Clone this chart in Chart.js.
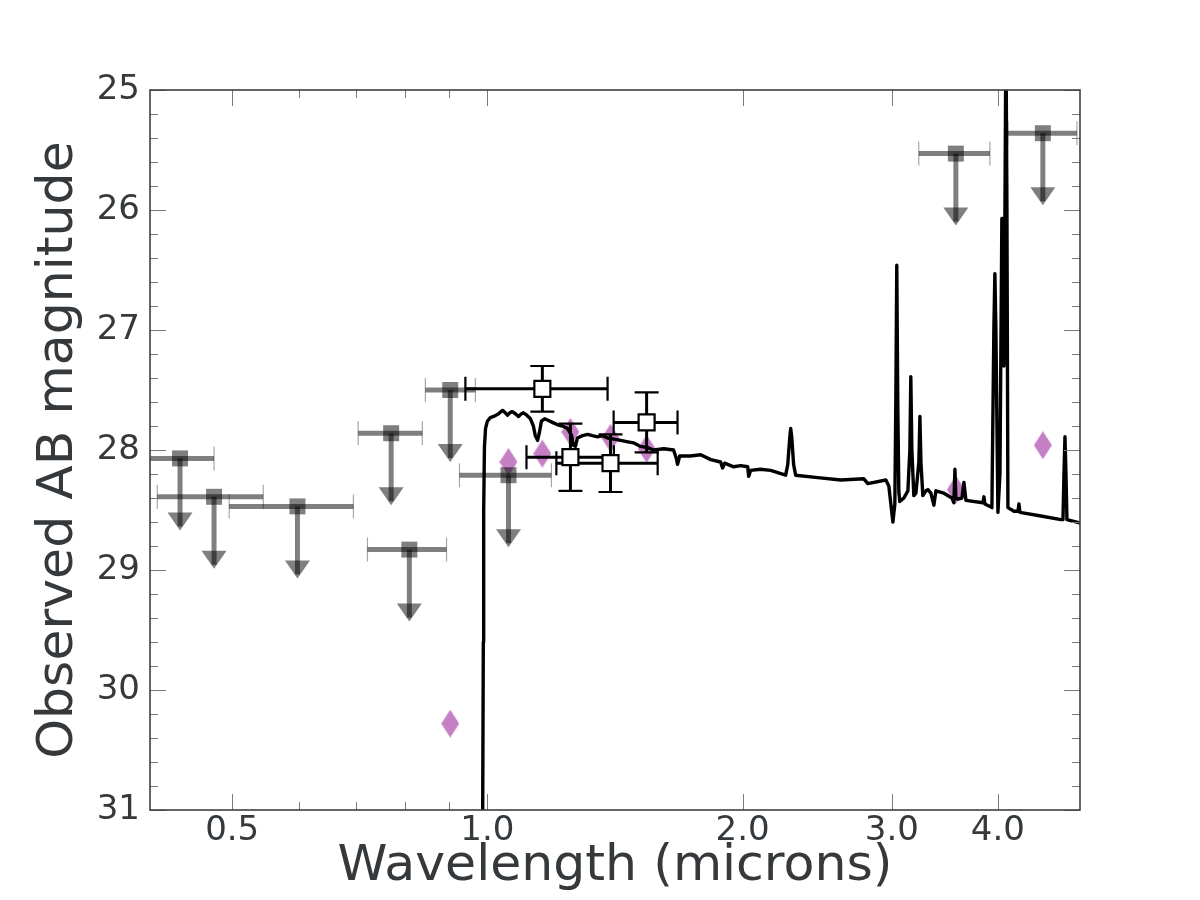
<!DOCTYPE html>
<html><head><meta charset="utf-8">
<script src="https://cdn.jsdelivr.net/npm/chart.js@4.4.1/dist/chart.umd.min.js"></script>
<style>html,body{margin:0;padding:0;background:#fff;}#wrap{width:1200px;height:900px;}</style>
</head><body><div id="wrap"><canvas id="c" width="1200" height="900"></canvas></div>
<script>
// ---------- data ----------
// Upper limits (gray squares with downward arrows)
const ulWave   = [0.434, 0.476, 0.597, 0.770, 0.809, 0.904, 1.059, 3.569, 4.520];
const ulMag    = [28.07, 28.39, 28.47, 27.86, 28.83, 27.50, 28.21, 25.53, 25.36];
const ulWaveLo = [0.396, 0.408, 0.496, 0.704, 0.722, 0.845, 0.927, 3.227, 4.111];
const ulWaveHi = [0.476, 0.544, 0.695, 0.838, 0.895, 0.968, 1.190, 3.915, 4.959];

// Detections (open black squares with error bars)
const detWave   = [1.161, 1.253, 1.397, 1.541];
const detMag    = [27.49, 28.06, 28.11, 27.77];
const detMagErr = [0.19, 0.28, 0.24, 0.25];
const detWaveLo = [0.942, 1.112, 1.206, 1.409];
const detWaveHi = [1.386, 1.410, 1.588, 1.676];

// Model photometry (magenta thin diamonds)
const modelWave = [0.904, 1.059, 1.161, 1.253, 1.397, 1.541, 3.569, 4.520];
const modelMag  = [30.28, 28.10, 28.03, 27.85, 27.90, 27.99, 28.33, 27.96];

// Model spectrum (black line)
const specWave = [0.987, 0.989, 0.990, 0.992, 0.995, 1.000, 1.008, 1.017, 1.030, 1.042, 1.050, 1.056, 1.063, 1.070, 1.080, 1.088, 1.096, 1.103, 1.113, 1.124, 1.133, 1.139, 1.146, 1.152, 1.158, 1.168, 1.177, 1.193, 1.210, 1.226, 1.243, 1.257, 1.263, 1.270, 1.277, 1.295, 1.313, 1.330, 1.349, 1.367, 1.386, 1.410, 1.436, 1.460, 1.487, 1.516, 1.545, 1.570, 1.615, 1.658, 1.672, 1.676, 1.686, 1.735, 1.785, 1.834, 1.884, 1.894, 1.905, 1.952, 1.990, 2.028, 2.033, 2.044, 2.100, 2.158, 2.248, 2.261, 2.273, 2.279, 2.286, 2.297, 2.310, 2.453, 2.611, 2.780, 2.810, 2.951, 2.975, 3.008, 3.024, 3.032, 3.040, 3.048, 3.057, 3.065, 3.099, 3.133, 3.150, 3.158, 3.167, 3.184, 3.202, 3.228, 3.237, 3.246, 3.263, 3.290, 3.308, 3.335, 3.362, 3.381, 3.455, 3.531, 3.550, 3.560, 3.569, 3.589, 3.628, 3.648, 3.668, 3.841, 3.852, 3.862, 3.936, 3.957, 3.968, 3.979, 4.001, 4.023, 4.044, 4.056, 4.067, 4.078, 4.089, 4.100, 4.111, 4.179, 4.225, 4.236, 4.248, 4.497, 4.748, 4.774, 4.787, 4.800, 4.813, 4.826, 5.013];
const specMag  = [31.30, 29.60, 28.50, 27.98, 27.82, 27.76, 27.73, 27.72, 27.70, 27.67, 27.69, 27.71, 27.69, 27.68, 27.70, 27.72, 27.70, 27.69, 27.71, 27.74, 27.80, 27.88, 27.92, 27.85, 27.76, 27.74, 27.75, 27.77, 27.79, 27.80, 27.82, 27.88, 27.96, 27.97, 27.90, 27.88, 27.87, 27.88, 27.89, 27.88, 27.90, 27.91, 27.92, 27.93, 27.94, 27.97, 27.98, 28.00, 27.99, 28.00, 28.08, 28.12, 28.05, 28.05, 28.04, 28.08, 28.10, 28.15, 28.11, 28.14, 28.13, 28.14, 28.22, 28.17, 28.16, 28.17, 28.21, 28.12, 27.90, 27.82, 27.90, 28.12, 28.21, 28.23, 28.25, 28.24, 28.28, 28.25, 28.30, 28.60, 28.45, 27.60, 26.46, 27.60, 28.35, 28.43, 28.40, 28.34, 28.00, 27.39, 28.00, 28.38, 28.36, 28.10, 27.72, 28.10, 28.38, 28.34, 28.33, 28.36, 28.46, 28.34, 28.36, 28.40, 28.44, 28.16, 28.40, 28.41, 28.40, 28.27, 28.42, 28.44, 28.39, 28.45, 28.48, 27.00, 26.53, 27.00, 28.52, 28.20, 26.07, 26.07, 27.30, 26.00, 24.50, 26.00, 28.48, 28.51, 28.51, 28.45, 28.52, 28.55, 28.58, 28.58, 28.20, 27.89, 28.20, 28.58, 28.61];

// Axis ticks
const xMajorTicks = [0.5, 1.0, 2.0, 3.0, 4.0];
const xMinorTicks = [0.6, 0.7, 0.8, 0.9];
const yMajorTicks = [25, 26, 27, 28, 29, 30, 31];
const yMinorTicks = [25.2, 25.4, 25.6, 25.8, 26.2, 26.4, 26.6, 26.8, 27.2, 27.4, 27.6, 27.8, 28.2, 28.4, 28.6, 28.8, 29.2, 29.4, 29.6, 29.8, 30.2, 30.4, 30.6, 30.8];

// ---------- styles ----------
const TEXT = '#35393c';
const FRAME = '#3f3f3f';
const TICKC = '#7a7a7a';
const UL_ARROW_MAG = 0.6;
const FONT = 'DejaVu Sans';

function makeDiamond(w, h, color) {
  const c = document.createElement('canvas');
  c.width = w; c.height = h;
  const g = c.getContext('2d');
  g.fillStyle = color;
  g.beginPath();
  g.moveTo(w / 2, 0); g.lineTo(w, h / 2); g.lineTo(w / 2, h); g.lineTo(0, h / 2);
  g.closePath(); g.fill();
  return c;
}
const diamondImg = makeDiamond(18, 28, 'rgba(139,0,139,0.5)');

function drawUL(chart) {
  const {ctx, chartArea: a, scales: {x, y}} = chart;
  ctx.save();
  ctx.beginPath(); ctx.rect(a.left, a.top, a.width, a.height); ctx.clip();
  for (let i = 0; i < ulWave.length; i++) {
    const px = x.getPixelForValue(ulWave[i]);
    const py = y.getPixelForValue(ulMag[i]);
    const x0 = x.getPixelForValue(ulWaveLo[i]);
    const x1 = x.getPixelForValue(ulWaveHi[i]);
    ctx.strokeStyle = 'rgba(0,0,0,0.5)';
    ctx.lineWidth = 5; ctx.lineCap = 'butt';
    ctx.beginPath(); ctx.moveTo(x0, py); ctx.lineTo(x1, py); ctx.stroke();
    ctx.strokeStyle = 'rgba(0,0,0,0.35)'; ctx.lineWidth = 1.2;
    ctx.beginPath();
    ctx.moveTo(x0, py - 12); ctx.lineTo(x0, py + 12);
    ctx.moveTo(x1, py - 12); ctx.lineTo(x1, py + 12);
    ctx.stroke();
    const tip = y.getPixelForValue(ulMag[i] + UL_ARROW_MAG);
    ctx.strokeStyle = 'rgba(0,0,0,0.5)'; ctx.lineWidth = 5;
    ctx.beginPath(); ctx.moveTo(px, py); ctx.lineTo(px, tip - 4); ctx.stroke();
    ctx.fillStyle = 'rgba(0,0,0,0.5)';
    ctx.beginPath();
    ctx.moveTo(px - 12.5, tip - 18); ctx.lineTo(px + 12.5, tip - 18); ctx.lineTo(px, tip);
    ctx.closePath(); ctx.fill();
  }
  ctx.restore();
}

function drawDet(chart) {
  const {ctx, scales: {x, y}} = chart;
  ctx.save();
  ctx.strokeStyle = '#000';
  for (let i = 0; i < detWave.length; i++) {
    const px = x.getPixelForValue(detWave[i]);
    const py = y.getPixelForValue(detMag[i]);
    const x0 = x.getPixelForValue(detWaveLo[i]);
    const x1 = x.getPixelForValue(detWaveHi[i]);
    const y0 = y.getPixelForValue(detMag[i] - detMagErr[i]);
    const y1 = y.getPixelForValue(detMag[i] + detMagErr[i]);
    ctx.lineWidth = 3;
    ctx.beginPath();
    ctx.moveTo(x0, py); ctx.lineTo(x1, py);
    ctx.moveTo(px, y0); ctx.lineTo(px, y1);
    ctx.stroke();
    ctx.lineWidth = 2.2;
    ctx.beginPath();
    ctx.moveTo(x0, py - 12); ctx.lineTo(x0, py + 12);
    ctx.moveTo(x1, py - 12); ctx.lineTo(x1, py + 12);
    ctx.moveTo(px - 12, y0); ctx.lineTo(px + 12, y0);
    ctx.moveTo(px - 12, y1); ctx.lineTo(px + 12, y1);
    ctx.stroke();
  }
  ctx.restore();
}

function drawFrame(chart) {
  const {ctx, chartArea: a, scales: {x, y}} = chart;
  ctx.save();
  ctx.strokeStyle = TICKC; ctx.lineWidth = 1;
  ctx.beginPath();
  const xt = (v, len) => { const p = Math.round(x.getPixelForValue(v)) + 0.5;
    ctx.moveTo(p, a.bottom); ctx.lineTo(p, a.bottom - len);
    ctx.moveTo(p, a.top); ctx.lineTo(p, a.top + len); };
  const yt = (v, len) => { const p = Math.round(y.getPixelForValue(v)) + 0.5;
    ctx.moveTo(a.left, p); ctx.lineTo(a.left + len, p);
    ctx.moveTo(a.right, p); ctx.lineTo(a.right - len, p); };
  xMajorTicks.forEach(v => xt(v, 16));
  xMinorTicks.forEach(v => xt(v, 8));
  yMajorTicks.forEach(v => yt(v, 16));
  yMinorTicks.forEach(v => yt(v, 8));
  ctx.stroke();
  ctx.strokeStyle = FRAME; ctx.lineWidth = 1.6;
  ctx.strokeRect(a.left, a.top, a.width, a.height);
  ctx.restore();
}

const sedPlugin = {
  id: 'sedPlugin',
  beforeDatasetDraw(chart, args) {
    const lbl = chart.data.datasets[args.index].label;
    if (lbl === 'upper limits') drawUL(chart);
    if (lbl === 'detections') drawDet(chart);
  },
  afterDraw(chart) { drawFrame(chart); }
};

new Chart(document.getElementById('c'), {
  type: 'scatter',
  data: {
    datasets: [
      {
        label: 'model photometry', order: 4,
        data: modelWave.map((w, i) => ({x: w, y: modelMag[i]})),
        pointStyle: diamondImg, pointRadius: 8, pointHoverRadius: 8
      },
      {
        label: 'spectrum', order: 3, showLine: true,
        data: specWave.map((w, i) => ({x: w, y: specMag[i]})),
        borderColor: '#000', borderWidth: 3.4, pointRadius: 0, tension: 0,
        borderJoinStyle: 'round', borderCapStyle: 'round'
      },
      {
        label: 'upper limits', order: 2,
        data: ulWave.map((w, i) => ({x: w, y: ulMag[i]})),
        pointStyle: 'rect', pointRadius: 11.3, borderWidth: 0,
        backgroundColor: 'rgba(0,0,0,0.5)', borderColor: 'rgba(0,0,0,0)'
      },
      {
        label: 'detections', order: 1,
        data: detWave.map((w, i) => ({x: w, y: detMag[i]})),
        pointStyle: 'rect', pointRadius: 11.3, borderWidth: 2.2,
        backgroundColor: '#fff', borderColor: '#000'
      }
    ]
  },
  options: {
    responsive: false, animation: false, devicePixelRatio: 1,
    layout: {padding: {top: 90, right: 120, left: 0, bottom: 0}},
    plugins: {legend: {display: false}, tooltip: {enabled: false}},
    events: [],
    scales: {
      x: {
        type: 'logarithmic', position: 'bottom', min: 0.4, max: 5.0,
        afterBuildTicks: s => { s.ticks = xMajorTicks.map(v => ({value: v})); },
        afterFit: s => { s.height = 90; },
        grid: {display: false, drawTicks: false},
        border: {display: false},
        ticks: {
          callback: v => Number(v).toFixed(1),
          font: {family: FONT, size: 34}, color: TEXT, padding: 1,
          maxRotation: 0, autoSkip: false
        },
        title: {display: true, text: 'Wavelength (microns)', color: TEXT,
          font: {family: FONT, size: 50.5}, padding: {top: 0, bottom: 3}}
      },
      y: {
        type: 'linear', position: 'left', min: 25, max: 31, reverse: true,
        afterBuildTicks: s => { s.ticks = yMajorTicks.map(v => ({value: v})); },
        afterFit: s => { s.width = 150; },
        grid: {display: false, drawTicks: false},
        border: {display: false},
        ticks: {
          callback: v => String(v),
          font: {family: FONT, size: 34}, color: TEXT, padding: 10
        },
        title: {display: true, text: 'Observed AB magnitude', color: TEXT,
          font: {family: FONT, size: 50.5}, padding: {top: 29, bottom: 0}}
      }
    }
  },
  plugins: [sedPlugin]
});
</script></body></html>
